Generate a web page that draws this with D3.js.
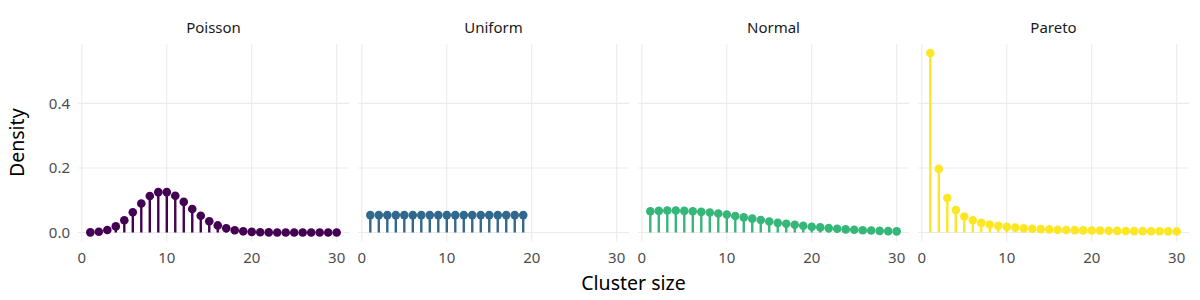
<!DOCTYPE html>
<html><head><meta charset="utf-8">
<script src="https://cdn.jsdelivr.net/npm/d3@7"></script>
<style>body{margin:0;background:#fff}svg{display:block}</style>
</head><body>
<svg id="c" width="1200" height="300"></svg>
<script>
const panels = ["Poisson", "Uniform", "Normal", "Pareto"];
const colors = ["#440154", "#31688E", "#35B779", "#FDE725"];
const xTicks = [0, 10, 20, 30];
const yTicks = [0.0, 0.2, 0.4];

const poissonX = d3.range(1, 31);
const poissonY = [0.0005, 0.0023, 0.0076, 0.019, 0.038, 0.063, 0.090, 0.113, 0.125, 0.125,
  0.114, 0.095, 0.073, 0.052, 0.035, 0.022, 0.013, 0.0071, 0.0037, 0.0019,
  0.0009, 0.0004, 0.0002, 0.0001, 0, 0, 0, 0, 0, 0];
const uniformX = d3.range(1, 20);
const uniformY = [0.054, 0.054, 0.054, 0.054, 0.054, 0.054, 0.054, 0.054, 0.054, 0.054,
  0.054, 0.054, 0.054, 0.054, 0.054, 0.054, 0.054, 0.054, 0.054];
const normalX = d3.range(1, 31);
const normalY = [0.066, 0.067, 0.068, 0.068, 0.067, 0.066, 0.064, 0.062, 0.059, 0.056,
  0.051, 0.047, 0.043, 0.039, 0.034, 0.030, 0.027, 0.024, 0.021, 0.018,
  0.016, 0.0135, 0.0115, 0.0097, 0.0084, 0.0072, 0.0062, 0.0052, 0.0043, 0.0035];
const paretoX = d3.range(1, 31);
const paretoY = [0.556, 0.197, 0.107, 0.0695, 0.0497, 0.0378, 0.0300, 0.0246, 0.0206, 0.0176,
  0.0152, 0.0134, 0.0119, 0.0106, 0.0096, 0.0087, 0.0079, 0.0073, 0.0067, 0.0062,
  0.0058, 0.0054, 0.0050, 0.0047, 0.0044, 0.0042, 0.0040, 0.0038, 0.0036, 0.0034];

const seriesX = [poissonX, uniformX, normalX, paretoX];
const seriesY = [poissonY, uniformY, normalY, paretoY];

const svg = d3.select("#c");
const panelW = 271, panelTop = 44, panelBottom = 241.5;
const panelLefts = [78, 358, 638, 918];
const x = d3.scaleLinear().domain([-0.45, 31.45]).range([0, panelW]);
const y = d3.scaleLinear().domain([-0.0278, 0.5838]).range([panelBottom, panelTop]);
const font = "'Noto Sans', 'Open Sans', sans-serif";

panels.forEach((name, i) => {
  const g = svg.append("g").attr("transform", `translate(${panelLefts[i]},0)`);
  g.selectAll(".gy").data(yTicks).enter().append("line")
    .attr("x1", 0).attr("x2", panelW).attr("y1", d => y(d)).attr("y2", d => y(d))
    .attr("stroke", "#EBEBEB").attr("stroke-width", 1.1);
  g.selectAll(".gx").data(xTicks).enter().append("line")
    .attr("x1", d => x(d)).attr("x2", d => x(d)).attr("y1", panelTop).attr("y2", panelBottom)
    .attr("stroke", "#EBEBEB").attr("stroke-width", 1.1);
  g.append("text").attr("x", panelW / 2).attr("y", 33).attr("text-anchor", "middle")
    .attr("font-family", font).attr("font-size", 15).attr("fill", "#1A1A1A").text(name);
  g.selectAll(".xt").data(xTicks).enter().append("text")
    .attr("x", d => x(d)).attr("y", 262.5).attr("text-anchor", "middle")
    .attr("font-family", font).attr("font-size", 15).attr("fill", "#4D4D4D").text(d => d);
  const data = seriesX[i].map((v, j) => ({x: v, y: seriesY[i][j]}));
  g.selectAll(".stem").data(data).enter().append("line")
    .attr("x1", d => x(d.x)).attr("x2", d => x(d.x))
    .attr("y1", y(0)).attr("y2", d => y(d.y))
    .attr("stroke", colors[i]).attr("stroke-width", 2.4);
  g.selectAll(".dot").data(data).enter().append("circle")
    .attr("cx", d => x(d.x)).attr("cy", d => y(d.y)).attr("r", 4.3)
    .attr("fill", colors[i]);
});

svg.selectAll(".yt").data(yTicks).enter().append("text")
  .attr("x", 70).attr("y", d => y(d) + 5.2).attr("text-anchor", "end")
  .attr("font-family", font).attr("font-size", 15).attr("fill", "#4D4D4D")
  .text(d => d3.format(".1f")(d));

svg.append("text").attr("x", 633.5).attr("y", 290).attr("text-anchor", "middle")
  .attr("font-family", font).attr("font-size", 19.5).attr("fill", "#000").text("Cluster size");
svg.append("text").attr("transform", `translate(24,${(panelTop + panelBottom) / 2}) rotate(-90)`)
  .attr("text-anchor", "middle")
  .attr("font-family", font).attr("font-size", 19.5).attr("fill", "#000").text("Density");
</script>
</body></html>
